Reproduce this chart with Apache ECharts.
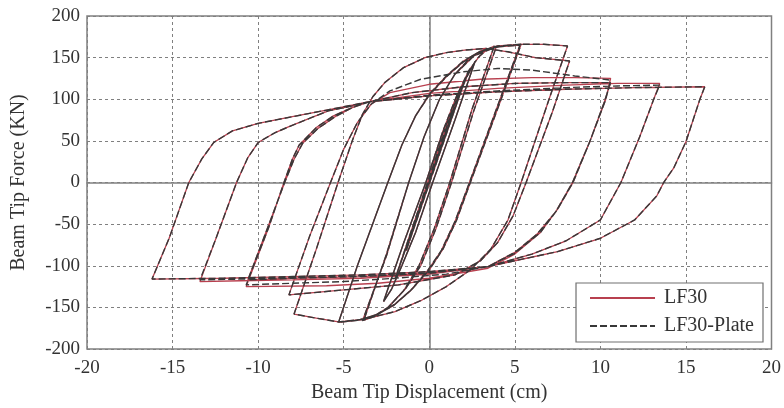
<!DOCTYPE html>
<html>
<head>
<meta charset="utf-8">
<script src="https://cdn.jsdelivr.net/npm/echarts@6/dist/echarts.min.js"></script>
<style>
html,body{margin:0;padding:0;background:#fff;}
#chart{width:784px;height:408px;}
</style>
</head>
<body>
<div id="chart"></div>
<script>
// ---- axis ticks ----
const xTicks = [-20, -15, -10, -5, 0, 5, 10, 15, 20];
const yTicks = [-200, -150, -100, -50, 0, 50, 100, 150, 200];
const seriesNames = ['LF30', 'LF30-Plate'];

// ---- hysteresis branches: [displacement (cm), force (kN)] ----
const smallCycles = [[0,0],[1.0,62],[-1.0,-60],[1.0,62],[-1.0,-60],[1.35,84],[-1.35,-82],[1.35,84],[-1.35,-82],[2.0,118],[-2.0,-116],[2.0,118],[-2.0,-116]];
const load267 = [[-2.0,-116],[-0.1,0],[0.8,55],[1.6,98],[2.2,127],[2.67,145]];
const unl267 = [[2.67,145],[1.5,75],[0.2,0],[-0.8,-60],[-1.6,-100],[-2.2,-128],[-2.67,-143]];
const rel267 = [[-2.67,-143],[-1.5,-73],[-0.2,0],[0.8,60],[1.6,100],[2.2,128],[2.67,145]];
const rel4a = [[-2.67,-143],[-1.5,-73],[-0.2,0],[0.8,62],[1.6,104],[2.3,134],[2.9,151],[3.4,160],[3.8,164]];
const unl4a = [[3.8,164],[2.5,88],[1.2,0],[0.3,-55],[-0.6,-100],[-1.5,-130],[-2.5,-152],[-3.2,-161],[-3.9,-166]];
const rel4b = [[-3.9,-166],[-2.5,-88],[-1.2,0],[-0.3,55],[0.6,100],[1.5,130],[2.5,152],[3.2,159],[3.9,162]];
const unl4b = [[3.9,162],[2.6,86],[1.3,0],[0.4,-55],[-0.5,-100],[-1.4,-128],[-2.4,-150],[-3.2,-160],[-3.8,-164]];
const rel533a = [[-3.8,-164],[-2.5,-86],[-1.2,0],[-0.3,55],[0.6,100],[1.5,130],[2.6,152],[3.8,162],[4.6,165],[5.37,166]];
const unl533a = [[5.37,166],[4.2,100],[2.4,0],[1.6,-45],[0.8,-80],[0,-105],[-1,-128],[-2,-146],[-3,-158],[-4,-165],[-5.3,-168]];
const rel533b = [[-5.3,-168],[-4.2,-100],[-2.42,0],[-1.6,45],[-0.8,80],[0,105],[1,127],[2,145],[3,157],[4,163],[5.3,165]];
const unl533b = [[5.3,165],[4.1,98],[2.35,0],[1.5,-47],[0.7,-82],[-0.1,-106],[-1.1,-130],[-2.1,-148],[-3.1,-159],[-4.1,-165],[-5.29,-167.5]];
const load8a = [[-5.29,-167.5],[-4.2,-100],[-2.42,0],[-1.6,45],[-0.8,80],[0,106],[1,128],[2,146],[3,158],[4,164],[5.4,166],[6.7,166],[8.08,164]];
const unl8a = [[8.08,164],[7,100],[5.37,0],[4.6,-45],[3.6,-80],[2.4,-105],[1,-125],[-0.5,-142],[-2,-155],[-3.74,-164],[-5.29,-167.5],[-6.6,-163],[-7.9,-158]];
const rel8b = [[-7.9,-158],[-6.6,-80],[-5.33,0],[-4.5,50],[-3.9,82],[-3.3,103],[-2.6,120],[-1.5,138],[-0.25,150],[1,156],[2.07,159],[3.3,161],[4.6,157],[6.2,150],[8.2,146]];
const unl8b = [[8.2,146],[7.2,85],[5.66,0],[4.9,-40],[4,-72],[3,-94],[1.5,-111],[-1.8,-123],[-5,-129],[-8.2,-135]];
const rel10a = [[-8.2,-135],[-7,-65],[-5.77,0],[-5,40],[-4.2,72],[-3.4,94],[-2.3,110],[-0.5,124],[2,133],[4,137],[6,135],[8.5,128],[10.6,123]];
const unl10a = [[10.6,123],[10.3,99],[9.4,50],[8.4,0],[7.5,-32],[6.5,-60],[5,-85],[3.43,-101],[1,-110],[-2,-115],[-5,-119],[-8,-121],[-10.7,-123]];
const rel10b = [[-10.7,-123],[-9.4,-55],[-8.49,0],[-8,28],[-7.6,45],[-6.6,66],[-5.6,80],[-4.5,90],[-3.5,97],[-1,108],[2,115],[5,119],[8,120],[10.6,120]];
const unl10b = [[10.6,120],[10.2,95],[9.4,50],[8.37,0],[7.4,-35],[6.3,-62],[5,-84],[3.43,-101],[0,-109],[-4,-113],[-8,-115],[-10.6,-117]];
const rel13 = [[-10.6,-117],[-9.4,-52],[-8.45,0],[-7.9,28],[-7.4,47],[-6.5,65],[-5.5,79],[-4.5,90],[-3.5,97],[0,105],[4,110],[8,114],[11,116],[13.47,117]];
const unl13 = [[13.47,117],[13.1,99],[12.3,55],[11.2,0],[10,-45],[8,-70],[6,-86],[3.43,-101],[0,-108],[-4,-112],[-8,-114],[-11,-116],[-13.4,-117]];
const rel16 = [[-13.4,-117],[-12.46,-67],[-11.26,0],[-10.6,30],[-10,48],[-9,60],[-8.2,67],[-7,77],[-5.9,86],[-4.5,92],[-3.5,97],[0,104],[4,109],[8,112],[12,114],[16.1,115]];
const unl16 = [[16.1,115],[15.8,99],[15,49],[14.3,18],[13.7,0],[13.3,-16],[12,-45],[10,-67],[7.5,-83],[5,-94],[3.43,-101],[0,-107],[-4,-111],[-8,-113],[-12,-115],[-16.2,-116]];
const relEnd = [[-16.2,-116],[-15.2,-67],[-14.6,-32],[-14.05,0],[-13.3,28],[-12.6,48],[-11.5,62],[-10,71],[-8,79],[-6,87],[-4.5,93],[-3.5,97],[-2,100]];

// LF30 (red) differs slightly on the large-cycle plateaus
const lfRel10a = [[-8.2,-135],[-7,-65],[-5.77,0],[-5,40],[-4.2,72],[-3.4,94],[-2.3,108],[0,118],[3,124],[6,126],[8.5,126],[10.6,125]];
const lfUnl10a = [[10.6,125],[10.3,99],[9.4,50],[8.4,0],[7.5,-32],[6.5,-60],[5,-86],[3.43,-103],[0,-115],[-3,-121],[-6,-124],[-10.7,-125]];
const lfRel13 = [[-10.6,-119],[-9.4,-52],[-8.45,0],[-7.9,28],[-7.4,47],[-6.5,65],[-5.5,79],[-4.5,90],[-3.5,97],[0,107],[4,113],[8,117],[11,119],[13.47,119]];
const lfUnl13 = [[13.47,119],[13.1,99],[12.3,55],[11.2,0],[10,-45],[8,-70],[6,-86],[3.43,-101],[0,-110],[-4,-115],[-8,-117],[-11,-118],[-13.4,-119]];

const plateBranches = [smallCycles, load267, unl267, rel267, unl267, rel4a, unl4a, rel4b, unl4b, rel533a, unl533a, rel533b, unl533b, load8a, unl8a, rel8b, unl8b, rel10a, unl10a, rel10b, unl10b, rel13, unl13, rel16, unl16, relEnd];
const lf30Branches = [smallCycles, load267, unl267, rel267, unl267, rel4a, unl4a, rel4b, unl4b, rel533a, unl533a, rel533b, unl533b, load8a, unl8a, rel8b, unl8b, lfRel10a, lfUnl10a, rel10b, unl10b, lfRel13, lfUnl13, rel16, unl16, relEnd];

function joinBranches(list) {
  const out = [];
  list.forEach(b => b.forEach(p => out.push(p)));
  return out;
}

const FONT = 'Liberation Serif';
const chart = echarts.init(document.getElementById('chart'), null, {renderer: 'canvas'});
chart.setOption({
  animation: false,
  backgroundColor: '#ffffff',
  grid: {left: 87, right: 8, top: 16, bottom: 55, show: true, borderColor: '#808080', borderWidth: 1.5, backgroundColor: '#fff'},
  legend: {
    data: seriesNames,
    orient: 'vertical',
    right: 21,
    top: 283,
    itemWidth: 65,
    itemHeight: 14,
    itemGap: 8,
    padding: [5, 9, 6, 13],
    borderColor: '#707070',
    borderWidth: 1.2,
    backgroundColor: '#fff',
    itemStyle: {opacity: 0},
    textStyle: {fontFamily: FONT, fontSize: 20, lineHeight: 20, color: '#333', padding: [0, 0, 0, 4]}
  },
  xAxis: {
    type: 'value', min: xTicks[0], max: xTicks[xTicks.length - 1], interval: 5,
    name: 'Beam Tip Displacement (cm)', nameLocation: 'middle', nameGap: 34,
    nameTextStyle: {fontFamily: FONT, fontSize: 20, color: '#333', verticalAlign: 'top'},
    axisLine: {show: true, lineStyle: {color: '#808080', width: 1.5}},
    axisTick: {show: false},
    axisLabel: {fontFamily: FONT, fontSize: 19, color: '#333', margin: 10},
    splitLine: {show: true, lineStyle: {color: '#808080', type: [3, 3], width: 1}}
  },
  yAxis: {
    type: 'value', min: yTicks[0], max: yTicks[yTicks.length - 1], interval: 50,
    name: 'Beam Tip Force (KN)', nameLocation: 'middle', nameGap: 58,
    nameTextStyle: {fontFamily: FONT, fontSize: 20, color: '#333'},
    axisLine: {show: true, lineStyle: {color: '#808080', width: 1.5}},
    axisTick: {show: false},
    axisLabel: {fontFamily: FONT, fontSize: 19, color: '#333', margin: 7},
    splitLine: {show: true, lineStyle: {color: '#808080', type: [3, 3], width: 1}}
  },
  series: [
    {name: seriesNames[0], type: 'line', data: joinBranches(lf30Branches), symbol: 'none', showSymbol: false,
     lineStyle: {color: '#b8404f', width: 1.3, type: 'solid'}, itemStyle: {color: '#b8404f'}, z: 2},
    {name: seriesNames[1], type: 'line', data: joinBranches(plateBranches), symbol: 'none', showSymbol: false,
     lineStyle: {color: '#383838', width: 1.4, type: [7, 3]}, itemStyle: {color: '#383838'}, z: 3}
  ]
});
</script>
</body>
</html>
